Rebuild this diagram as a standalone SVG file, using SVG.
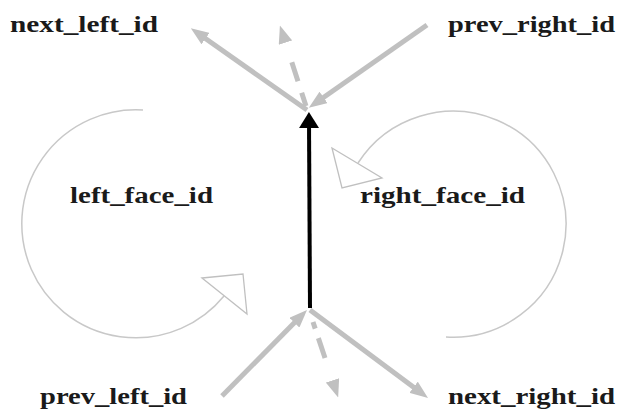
<svg xmlns="http://www.w3.org/2000/svg" width="619" height="410" viewBox="0 0 619 410">
  <style>
    .lbl { font-family: "Liberation Serif", "Times New Roman", serif; font-weight: bold; font-size: 24px; fill: #1a1a1a; }
    .edge { stroke: #c0c0c0; stroke-width: 5; fill: none; marker-end: url(#ga); }
    .dash { stroke: #c0c0c0; stroke-width: 5; fill: none; marker-end: url(#ga); }
    .loop { stroke: #c8c8c8; stroke-width: 1.5; fill: none; }
    .tri { stroke: #c0c0c0; stroke-width: 1.3; fill: #ffffff; stroke-linejoin: miter; }
  </style>
  <defs>
    <marker id="ga" viewBox="0 0 18 14" refX="8" refY="7" markerWidth="18" markerHeight="14" markerUnits="userSpaceOnUse" orient="auto">
      <path d="M0,0 L18,7 L0,14 z" fill="#c0c0c0"/>
    </marker>
    <marker id="ba" viewBox="0 0 16 20" refX="6" refY="10" markerWidth="16" markerHeight="20" markerUnits="userSpaceOnUse" orient="auto">
      <path d="M0,0 L16,10 L0,20 z" fill="#000000"/>
    </marker>
  </defs>
  <rect width="619" height="410" fill="#ffffff"/>

  <g id="connectors">
    <line class="edge" x1="307" y1="110" x2="199" y2="34"/>
    <line class="edge" x1="427" y1="25" x2="317" y2="102"/>
    <line class="dash" x1="306" y1="106" x2="283" y2="35" stroke-dasharray="14 12 20 40"/>
    <line class="edge" x1="222" y1="396" x2="300" y2="317"/>
    <line class="edge" x1="310" y1="310" x2="420" y2="392"/>
    <line class="dash" x1="313" y1="322" x2="335" y2="388" stroke-dasharray="7 10 21 60"/>
    <line x1="310" y1="308" x2="309" y2="122" stroke="#000" stroke-width="4" marker-end="url(#ba)"/>
  </g>

  <g id="left_face">
    <path class="loop" d="M143,110 A114,114 0 1 0 224,296"/>
    <polygon class="tri" points="202,278 243,274 247,314"/>
    <text class="lbl" x="70" y="203" textLength="143" lengthAdjust="spacingAndGlyphs">left_face_id</text>
  </g>

  <g id="right_face">
    <path class="loop" d="M446,337 A113,113 0 1 0 358,163"/>
    <polygon class="tri" points="332,148 382,178 342,188"/>
    <text class="lbl" x="360" y="203" textLength="165" lengthAdjust="spacingAndGlyphs">right_face_id</text>
  </g>

  <g id="next_left">
    <text class="lbl" x="10" y="32" textLength="148" lengthAdjust="spacingAndGlyphs">next_left_id</text>
  </g>
  <g id="prev_right">
    <text class="lbl" x="448" y="32" textLength="167" lengthAdjust="spacingAndGlyphs">prev_right_id</text>
  </g>
  <g id="prev_left">
    <text class="lbl" x="40" y="404" textLength="147" lengthAdjust="spacingAndGlyphs">prev_left_id</text>
  </g>
  <g id="next_right">
    <text class="lbl" x="448" y="404" textLength="167" lengthAdjust="spacingAndGlyphs">next_right_id</text>
  </g>
</svg>
